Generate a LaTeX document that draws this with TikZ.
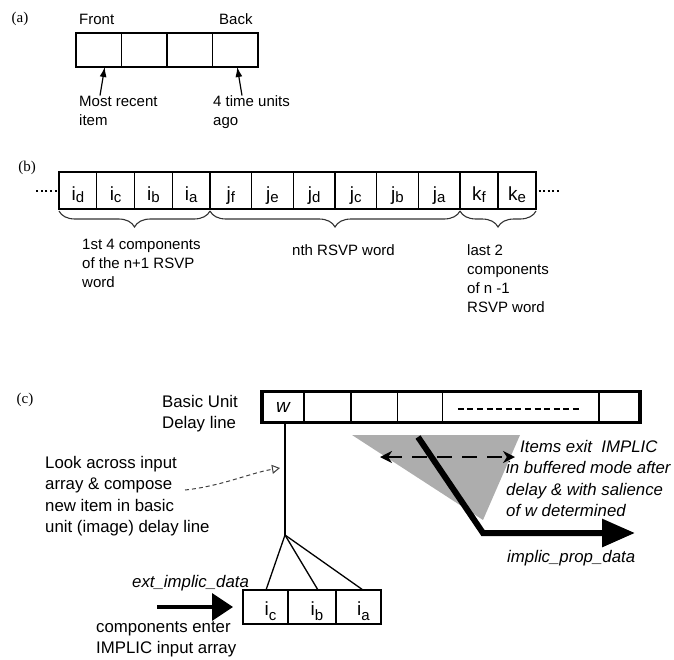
\documentclass[tikz,border=0pt]{standalone}
\usepackage{fontspec}
\setmainfont{Liberation Sans}
\newfontfamily\serifpart{Liberation Serif}
\usepackage{tikz}
\usetikzlibrary{arrows.meta}
\usetikzlibrary{decorations.pathreplacing}

% letter with a lowered index, set low in its cell
\newcommand\cellsub[2]{\raisebox{-10pt}[0pt][0pt]{#1\raisebox{-1.5pt}{\fontsize{15}{15}\selectfont #2}}}
\newcommand\inputsub[2]{\hspace*{10pt}\raisebox{-8pt}[0pt][0pt]{#1\raisebox{-5pt}{\fontsize{15}{15}\selectfont #2}}}

\begin{document}
\begin{tikzpicture}[x=1pt,y=-1pt,
  cell/.style={draw,line width=1.1pt,inner sep=0pt,outer sep=0pt,font=\fontsize{19}{19}\selectfont},
  rim/.style={line width=2.5pt},
  ptr/.style={-{Latex[length=10pt,width=7pt]},line width=1.2pt},
  txt/.style={inner sep=0pt,align=left,font=\fontsize{15}{19}\selectfont},
  ctxt/.style={inner sep=0pt,align=left,font=\fontsize{16.8}{21.5}\selectfont},
  itxt/.style={ctxt,font=\fontsize{16.8}{21.5}\selectfont\itshape},
  tag/.style={inner sep=0pt,font=\serifpart\fontsize{15}{15}\selectfont},
  brace/.style={decorate,decoration={brace,mirror,amplitude=16pt,raise=2pt},line width=1.1pt,black!80},
  dots/.style={line width=2pt,dash pattern=on 2pt off 2.6pt},
  branch/.style={line width=1.3pt},
  bigptr/.style={-{Triangle[length=21pt,width=27pt]},line width=3.3pt},
  exitptr/.style={-{Triangle[length=33pt,width=27pt]},line width=6pt},
  twoway/.style={{Stealth[length=12pt,width=12pt]}-{Stealth[length=12pt,width=12pt]},line width=2.5pt,dash pattern=on 15pt off 10pt},
  lookptr/.style={-{Triangle[open,length=8pt,width=9pt]},line width=1pt,black!75,dash pattern=on 4pt off 3pt}
]
\useasboundingbox (0,0) rectangle (674,659);

% (a) queue
\node[tag] (taga) at (20,19) {(a)};
\node[cell,minimum width=45.5pt,minimum height=34pt] (a1) at (98.75,50) {};
\node[cell,minimum width=45.5pt,minimum height=34pt] (a2) at (144.25,50) {};
\node[cell,minimum width=45.5pt,minimum height=34pt] (a3) at (189.75,50) {};
\node[cell,minimum width=45.5pt,minimum height=34pt] (a4) at (235.25,50) {};
\draw[rim] (a1.north west) rectangle (a4.south east);
\node[txt,anchor=base west] (front) at (79,24.5) {Front};
\node[txt,anchor=base west] (back) at (219,24.5) {Back};
\node[txt,anchor=north west] (recent) at (79,95.5) {Most recent\\item};
\node[txt,anchor=north west] (ago) at (213,95.5) {4 time units\\ago};
\draw[ptr] ([xshift=21pt]recent.north west) -- ([xshift=6pt]a1.south);
\draw[ptr] ([xshift=29pt]ago.north west) -- ([xshift=2pt]a4.south);

% (b) component stream
\node[tag] (tagb) at (27,168) {(b)};
\node[cell,minimum width=37.75pt,minimum height=37pt] (b1) at (77.875,190.5) {\cellsub{i}{d}};
\node[cell,minimum width=37.75pt,minimum height=37pt] (b2) at (115.625,190.5) {\cellsub{i}{c}};
\node[cell,minimum width=37.75pt,minimum height=37pt] (b3) at (153.375,190.5) {\cellsub{i}{b}};
\node[cell,minimum width=37.75pt,minimum height=37pt] (b4) at (191.125,190.5) {\cellsub{i}{a}};
\node[cell,minimum width=41.667pt,minimum height=37pt] (b5) at (230.833,190.5) {\cellsub{j}{f}};
\node[cell,minimum width=41.667pt,minimum height=37pt] (b6) at (272.5,190.5) {\cellsub{j}{e}};
\node[cell,minimum width=41.667pt,minimum height=37pt] (b7) at (314.167,190.5) {\cellsub{j}{d}};
\node[cell,minimum width=41.667pt,minimum height=37pt] (b8) at (355.833,190.5) {\cellsub{j}{c}};
\node[cell,minimum width=41.667pt,minimum height=37pt] (b9) at (397.5,190.5) {\cellsub{j}{b}};
\node[cell,minimum width=41.667pt,minimum height=37pt] (b10) at (439.167,190.5) {\cellsub{j}{a}};
\node[cell,minimum width=38pt,minimum height=37pt] (b11) at (479,190.5) {\cellsub{k}{f}};
\node[cell,minimum width=38pt,minimum height=37pt] (b12) at (517,190.5) {\cellsub{k}{e}};
\draw[line width=1.8pt] (b1.north west) rectangle (b12.south east);
\draw[dots] ([xshift=-2.5pt]b1.west) -- ++(-22,0);
\draw[dots] ([xshift=2.5pt]b12.east) -- ++(22,0);
\draw[brace] (b1.south west) -- (b4.south east);
\draw[brace] (b5.south west) -- (b10.south east);
\draw[brace] (b11.south west) -- (b12.south east);
\node[txt,anchor=north west] (first4) at (82,239) {1st 4 components\\of the n+1 RSVP\\word};
\node[txt,anchor=base west] (nth) at (292,255) {nth RSVP word};
\node[txt,anchor=north west] (last2) at (467,244) {last 2\\components\\of n -1\\RSVP word};

% (c) basic unit delay line
\node[tag] (tagc) at (25,400) {(c)};
\node[cell,minimum width=42pt,minimum height=31pt] (w) at (283,407) {\itshape w};
\node[cell,minimum width=47pt,minimum height=31pt] (t2) at (327.5,407) {};
\node[cell,minimum width=46.5pt,minimum height=31pt] (t3) at (374.25,407) {};
\node[cell,minimum width=45pt,minimum height=31pt] (t4) at (420,407) {};
\node[cell,minimum width=156.5pt,minimum height=31pt] (t5) at (520.75,407) {};
\node[cell,minimum width=41pt,minimum height=31pt] (t6) at (619.5,407) {};
\draw[line width=3.5pt] (w.north west) rectangle (t6.south east);
\draw[line width=2pt,dash pattern=on 6pt off 3.6pt] ([xshift=-63pt,yshift=-1.5pt]t5.center) -- ([xshift=58.2pt,yshift=-1.5pt]t5.center);
\node[ctxt,anchor=north west] (delayline) at (162,395) {Basic Unit\\Delay line};

% input array
\node[cell,minimum width=45pt,minimum height=34pt] (l1) at (265.5,607) {\inputsub{i}{c}};
\node[cell,minimum width=48pt,minimum height=34pt] (l2) at (312,607) {\inputsub{i}{b}};
\node[cell,minimum width=45pt,minimum height=34pt] (l3) at (358.5,607) {\inputsub{i}{a}};
\draw[rim] (l1.north west) rectangle (l3.south east);

% compose lines
\coordinate (apex) at (285,535);
\draw[branch] ([xshift=2pt]w.south) -- (apex);
\draw[branch] (apex) -- ([xshift=0.5pt]l1.north);
\draw[branch] (apex) -- ([xshift=6pt]l2.north);
\draw[branch] (apex) -- ([xshift=4.5pt]l3.north);
\node[ctxt,anchor=north west] (look) at (45,456) {Look across input\\array \& compose\\new item in basic\\unit (image) delay line};
\coordinate (lookfrom) at (185,490);
\coordinate (lookto) at (280,468);
\draw[lookptr] (lookfrom) .. controls (222,486) and (250,473) .. (lookto);

% entering data
\node[itxt,anchor=base west] (extdata) at (132,587) {ext\_implic\_data};
\coordinate (extin) at (157,607);
\draw[bigptr] (extin) -- ([xshift=-10pt]l1.west);
\node[ctxt,anchor=north west] (enter) at (96,621) {components enter\\IMPLIC input array};

% exiting data
\fill[black!32] (352,435) -- (520,435) -- (483,520) -- cycle;
\coordinate (exittop) at (418,437);
\coordinate (elbow) at (483,533);
\coordinate (exittip) at (635,533);
\draw[exitptr] (exittop) -- (elbow) -- (exittip);
\coordinate (dashl) at (380,457);
\coordinate (dashr) at (515,457);
\draw[twoway] (dashl) -- (dashr);
\node[itxt,anchor=north west] (exitnote) at (506,440) {\hspace*{14pt}Items exit\ \ IMPLIC\\in buffered mode after\\delay \& with salience\\of w determined};
\node[itxt,anchor=base west] (propdata) at (507,562) {implic\_prop\_data};
\end{tikzpicture}
\end{document}
